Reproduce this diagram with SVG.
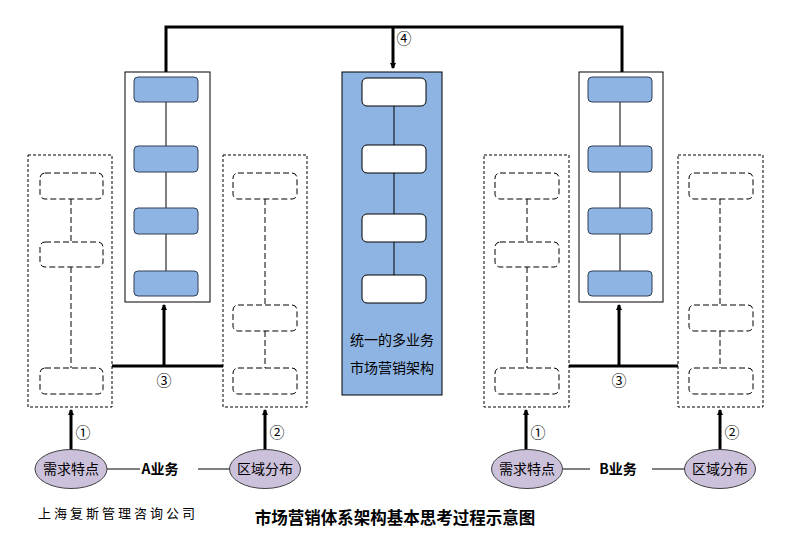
<svg xmlns="http://www.w3.org/2000/svg" width="785" height="547" viewBox="0 0 785 547">
<style>
.panel{fill:#fff;stroke:#000;stroke-width:1}
.blue{fill:#8EB4E3;stroke:#2f3f55;stroke-width:1}
.white{fill:#fff;stroke:#000;stroke-width:1}
.dbox{fill:#fff;stroke:#000;stroke-width:1;stroke-dasharray:3,2}
.drect{fill:#fff;stroke:#000;stroke-width:1;stroke-dasharray:6,3}
.dline{stroke:#000;stroke-width:1;stroke-dasharray:6,3;fill:none}
.thin{stroke:#000;stroke-width:1;fill:none}
.thick{stroke:#000;stroke-width:3;fill:none}
.ell{fill:#CCC1DA;stroke:#404040;stroke-width:1}
.t{font-family:"Noto Sans CJK SC","Liberation Sans",sans-serif;font-size:14px;fill:#000}
.num{font-family:"Noto Sans CJK SC","DejaVu Sans",sans-serif;font-size:15px;fill:#000}
</style>
<defs>
<marker id="ah" markerWidth="6" markerHeight="7" refX="5" refY="3.5" orient="auto" markerUnits="userSpaceOnUse">
<path d="M0,0.5 L6,3.5 L0,6.5 z" fill="#000"/>
</marker>
</defs>

<g id="connectors">
<path class="thick" d="M166,72 V27 H622 V72"/>
<path class="thick" d="M393,27 V68" marker-end="url(#ah)"/>
<path class="thick" d="M112,366 H223"/>
<path class="thick" d="M164,366 V305" marker-end="url(#ah)"/>
<path class="thick" d="M569,366 H678"/>
<path class="thick" d="M619,366 V305" marker-end="url(#ah)"/>
<path class="thick" d="M71,450 V410" marker-end="url(#ah)"/>
<path class="thick" d="M265,450 V410" marker-end="url(#ah)"/>
<path class="thick" d="M526,450 V410" marker-end="url(#ah)"/>
<path class="thick" d="M720,450 V410" marker-end="url(#ah)"/>
<path class="thin" d="M107,469 H140 M198,469 H230"/>
<path class="thin" d="M563,469 H590 M652,469 H685"/>
<text class="num" x="404" y="44" text-anchor="middle">④</text>
<text class="num" x="164" y="386" text-anchor="middle">③</text>
<text class="num" x="619" y="386" text-anchor="middle">③</text>
<text class="num" x="83" y="438" text-anchor="middle">①</text>
<text class="num" x="277" y="438" text-anchor="middle">②</text>
<text class="num" x="538" y="438" text-anchor="middle">①</text>
<text class="num" x="732" y="438" text-anchor="middle">②</text>
</g>

<g id="panelA">
<rect class="panel" x="125" y="72" width="85" height="230"/>
<path class="thin" d="M166,102 V271"/>
<rect class="blue" x="134" y="77" width="64" height="25" rx="4"/>
<rect class="blue" x="134" y="146" width="64" height="26" rx="4"/>
<rect class="blue" x="134" y="208" width="64" height="26" rx="4"/>
<rect class="blue" x="134" y="271" width="64" height="25" rx="4"/>
</g>

<g id="panelB">
<rect class="panel" x="579" y="72" width="84" height="230"/>
<path class="thin" d="M620,102 V271"/>
<rect class="blue" x="588" y="77" width="64" height="25" rx="4"/>
<rect class="blue" x="588" y="146" width="64" height="26" rx="4"/>
<rect class="blue" x="588" y="208" width="64" height="26" rx="4"/>
<rect class="blue" x="588" y="271" width="64" height="25" rx="4"/>
</g>

<g id="center">
<rect x="342" y="72" width="100" height="323" fill="#8EB4E3" stroke="#000" stroke-width="1"/>
<path class="thin" d="M394,106 V275"/>
<rect class="white" x="362" y="78" width="64" height="28" rx="5"/>
<rect class="white" x="362" y="145" width="64" height="28" rx="5"/>
<rect class="white" x="362" y="214" width="64" height="28" rx="5"/>
<rect class="white" x="362" y="275" width="64" height="28" rx="5"/>
<text class="t" x="392" y="345" text-anchor="middle">统一的多业务</text>
<text class="t" x="392" y="373" text-anchor="middle">市场营销架构</text>
</g>

<g id="A1">
<rect class="dbox" x="28" y="155" width="84" height="252"/>
<path class="dline" d="M71,199 V242 M71,267 V368"/>
<rect class="drect" x="40" y="173" width="63" height="26" rx="5"/>
<rect class="drect" x="40" y="242" width="63" height="25" rx="5"/>
<rect class="drect" x="40" y="368" width="63" height="26" rx="5"/>
</g>

<g id="A2">
<rect class="dbox" x="223" y="155" width="84" height="252"/>
<path class="dline" d="M265,199 V305 M265,331 V368"/>
<rect class="drect" x="233" y="173" width="64" height="26" rx="5"/>
<rect class="drect" x="233" y="305" width="64" height="26" rx="5"/>
<rect class="drect" x="233" y="368" width="64" height="26" rx="5"/>
</g>

<g id="B1">
<rect class="dbox" x="484" y="155" width="85" height="252"/>
<path class="dline" d="M527,199 V242 M527,267 V368"/>
<rect class="drect" x="495" y="173" width="64" height="26" rx="5"/>
<rect class="drect" x="495" y="242" width="64" height="25" rx="5"/>
<rect class="drect" x="495" y="368" width="64" height="26" rx="5"/>
</g>

<g id="B2">
<rect class="dbox" x="678" y="155" width="85" height="252"/>
<path class="dline" d="M720,199 V305 M720,331 V368"/>
<rect class="drect" x="689" y="173" width="64" height="26" rx="5"/>
<rect class="drect" x="689" y="305" width="64" height="26" rx="5"/>
<rect class="drect" x="689" y="368" width="64" height="26" rx="5"/>
</g>

<g id="A-need">
<ellipse class="ell" cx="71" cy="469" rx="36" ry="19.5"/>
<text class="t" x="71" y="474" text-anchor="middle">需求特点</text>
</g>
<g id="A-label">
<text class="t" x="160" y="474" text-anchor="middle" font-weight="bold">A业务</text>
</g>
<g id="A-region">
<ellipse class="ell" cx="265" cy="469" rx="35.5" ry="19.5"/>
<text class="t" x="265" y="474" text-anchor="middle">区域分布</text>
</g>
<g id="B-need">
<ellipse class="ell" cx="527" cy="469" rx="35.5" ry="19.5"/>
<text class="t" x="527" y="474" text-anchor="middle">需求特点</text>
</g>
<g id="B-label">
<text class="t" x="618" y="474" text-anchor="middle" font-weight="bold">B业务</text>
</g>
<g id="B-region">
<ellipse class="ell" cx="720" cy="469" rx="35.5" ry="19.5"/>
<text class="t" x="720" y="474" text-anchor="middle">区域分布</text>
</g>

<text x="38" y="518" font-family="'Noto Sans CJK SC',sans-serif" font-size="13px" letter-spacing="3" fill="#000">上海复斯管理咨询公司</text>
<text x="395" y="524" text-anchor="middle" font-family="'Noto Sans CJK SC',sans-serif" font-size="16.5px" font-weight="bold" fill="#000">市场营销体系架构基本思考过程示意图</text>
</svg>
